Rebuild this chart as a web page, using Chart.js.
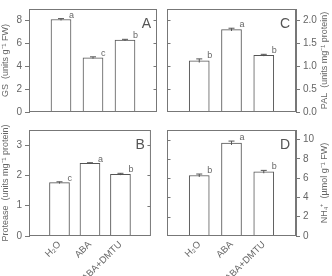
<!DOCTYPE html>
<html>
<head>
<meta charset="utf-8">
<script src="https://cdn.jsdelivr.net/npm/chart.js"></script>
<style>
  body { margin: 0; background: #fff; }
  #wrap { position: relative; width: 332px; height: 276px; }
  canvas { position: absolute; }
</style>
</head>
<body>
<div id="wrap">
  <canvas id="panelA" style="left:0;top:0" width="162" height="121"></canvas>
  <canvas id="panelC" style="left:164px;top:0" width="168" height="121"></canvas>
  <canvas id="panelB" style="left:0;top:121px" width="162" height="155"></canvas>
  <canvas id="panelD" style="left:164px;top:121px" width="168" height="155"></canvas>
</div>
<script>
// 처리구
const treatments = ['H₂O', 'ABA', 'ABA+DMTU'];

// A: GS
const gsValues = [8.08, 4.74, 6.28];
const gsErrors = [0.08, 0.08, 0.07];
const gsLetters = ['a', 'c', 'b'];

// B: Protease
const proteaseValues = [1.76, 2.40, 2.04];
const proteaseErrors = [0.03, 0.02, 0.03];
const proteaseLetters = ['c', 'a', 'b'];

// C: PAL
const palValues = [1.12, 1.80, 1.24];
const palErrors = [0.04, 0.03, 0.02];
const palLetters = ['b', 'a', 'b'];

// D: NH4+
const nh4Values = [6.28, 9.65, 6.66];
const nh4Errors = [0.15, 0.2, 0.15];
const nh4Letters = ['b', 'a', 'b'];

const GREY = '#777';
const TEXT = '#666';
const FONT = 'Arial, "Liberation Sans", sans-serif';

// 오차막대, 글자, 테두리, 안쪽 눈금, 패널 문자
const panelPlugin = {
    id: 'panelPlugin',
    afterDatasetsDraw(chart, args, opts) {
        const ctx = chart.ctx;
        const area = chart.chartArea;
        const x = chart.scales.x;
        const y = chart.scales.y;
        ctx.save();

        // 오차막대
        ctx.strokeStyle = '#555';
        ctx.lineWidth = 1;
        opts.values.forEach((v, i) => {
            const px = x.getPixelForValue(i + 1);
            const top = y.getPixelForValue(v + opts.errors[i]);
            const bot = y.getPixelForValue(v - opts.errors[i]);
            ctx.beginPath();
            ctx.moveTo(px, top); ctx.lineTo(px, bot);
            ctx.moveTo(px - 3, top); ctx.lineTo(px + 3, top);
            ctx.stroke();
        });

        // 유의성 글자
        ctx.fillStyle = TEXT;
        ctx.font = '9px ' + FONT;
        ctx.textAlign = 'left';
        ctx.textBaseline = 'bottom';
        opts.values.forEach((v, i) => {
            const px = x.getPixelForValue(i + 1);
            const top = y.getPixelForValue(v + opts.errors[i]);
            ctx.fillText(opts.letters[i], px + 8, top + 1);
        });

        // 테두리
        ctx.strokeStyle = GREY;
        ctx.strokeRect(area.left + 0.5, area.top + 0.5, area.right - area.left - 1, area.bottom - area.top - 1);

        // 반대쪽 안쪽 눈금
        const edge = opts.right ? area.left + 0.5 : area.right - 0.5;
        const dir = opts.right ? 1 : -1;
        y.ticks.forEach(t => {
            const py = Math.round(y.getPixelForValue(t.value)) + 0.5;
            if (py <= area.top + 2 || py >= area.bottom - 2) return;
            ctx.beginPath();
            ctx.moveTo(edge, py); ctx.lineTo(edge + dir * 3, py);
            ctx.stroke();
        });

        // 패널 문자
        ctx.fillStyle = '#555';
        ctx.font = '14px ' + FONT;
        ctx.textAlign = 'right';
        ctx.textBaseline = 'top';
        ctx.fillText(opts.tag, area.right - 6, area.top + 8);

        // 오른쪽 축 제목 (아래에서 위로)
        if (opts.right) {
            ctx.fillStyle = TEXT;
            ctx.font = '9px ' + FONT;
            ctx.textAlign = 'center';
            ctx.textBaseline = 'middle';
            ctx.translate(area.right + 29, (area.top + area.bottom) / 2);
            ctx.rotate(-Math.PI / 2);
            ctx.fillText(opts.title, 0, 0);
        }
        ctx.restore();
    }
};

function makePanel(id, values, errors, letters, cfg) {
    const right = cfg.right;
    new Chart(document.getElementById(id), {
        type: 'bar',
        data: {
            labels: ['', ...treatments, ''],
            datasets: [{
                data: [null, ...values, null],
                backgroundColor: '#fff',
                borderColor: '#555',
                borderWidth: 1,
                barThickness: 20
            }]
        },
        options: {
            responsive: false,
            animation: false,
            layout: {
                padding: {
                    top: cfg.top,
                    bottom: cfg.bottom,
                    left: right ? 3 : 0,
                    right: right ? 0 : 5
                }
            },
            plugins: {
                legend: { display: false },
                tooltip: { enabled: false },
                panelPlugin: {
                    values: values, errors: errors, letters: letters,
                    tag: cfg.tag, right: right, title: cfg.title
                }
            },
            scales: {
                x: {
                    display: cfg.showX,
                    offset: false,
                    grid: { display: false, drawTicks: false },
                    border: { display: false },
                    ticks: {
                        color: TEXT,
                        font: { family: FONT, size: 9.5 },
                        minRotation: 45,
                        maxRotation: 45,
                        padding: 3,
                        autoSkip: false
                    },
                    afterFit: s => { s.height = cfg.showX ? 40 : 0; }
                },
                y: {
                    position: right ? 'right' : 'left',
                    min: 0,
                    max: cfg.max,
                    grid: { drawOnChartArea: false, tickLength: 4, color: GREY },
                    border: { color: GREY },
                    ticks: {
                        stepSize: cfg.step,
                        includeBounds: false,
                        autoSkip: false,
                        color: TEXT,
                        font: { family: FONT, size: 10 },
                        padding: 3,
                        callback: v => cfg.fmt ? cfg.fmt(v) : v
                    },
                    title: {
                        display: !right,
                        text: cfg.title,
                        color: TEXT,
                        font: { family: FONT, size: 9 },
                        padding: { top: 0, bottom: 1 }
                    },
                    afterFit: s => { s.width = right ? 36 : 29; }
                }
            }
        },
        plugins: [panelPlugin]
    });
}

makePanel('panelA', gsValues, gsErrors, gsLetters, {
    tag: 'A', title: 'GS  (units g⁻¹ FW)', max: 9, step: 2,
    top: 5, bottom: 5, showX: false, right: false
});
makePanel('panelC', palValues, palErrors, palLetters, {
    tag: 'C', title: 'PAL  (units mg⁻¹ protein)', max: 2.25, step: 0.5,
    fmt: v => v.toFixed(1),
    top: 5, bottom: 5, showX: false, right: true
});
makePanel('panelB', proteaseValues, proteaseErrors, proteaseLetters, {
    tag: 'B', title: 'Protease  (units mg⁻¹ protein)', max: 3.5, step: 1,
    top: 4, bottom: 0, showX: true, right: false
});
makePanel('panelD', nh4Values, nh4Errors, nh4Letters, {
    tag: 'D', title: 'NH₄⁺  (µmol g⁻¹ FW)', max: 11, step: 2,
    top: 4, bottom: 0, showX: true, right: true
});
</script>
</body>
</html>
